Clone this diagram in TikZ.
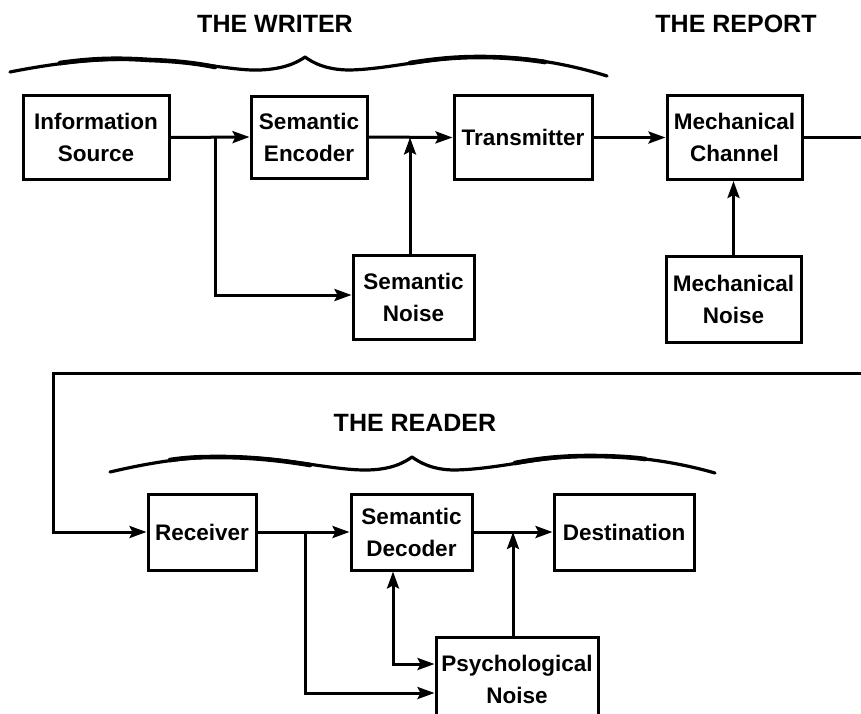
\documentclass[tikz,border=0pt]{standalone}
\usepackage{fontspec}
\newfontfamily\hv{Liberation Sans}
\usetikzlibrary{arrows.meta}
\begin{document}
\begin{tikzpicture}[x=1pt,y=-1pt,
  box/.style={draw, line width=3pt, align=center, inner sep=0pt,
    font=\hv\bfseries\fontsize{22.5}{32}\selectfont},
  title/.style={font=\hv\bfseries\fontsize{25}{29}\selectfont},
  wire/.style={line width=3pt},
  arr/.style={wire, -{Stealth[length=17pt,width=12pt,inset=3pt]}},
  darr/.style={wire, {Stealth[length=17pt,width=12pt,inset=3pt]}-{Stealth[length=17pt,width=12pt,inset=3pt]}},
  brace/.style={line width=3.2pt, line cap=round, line join=round},
  thickbrace/.style={line width=4.6pt, line cap=round}]
\useasboundingbox (0,0) rectangle (861,713);
\clip (0,0) rectangle (861,713);
\fill[white] (0,0) rectangle (861,713);

% titles
\node[title] (tw) at (275,24) {THE WRITER};
\node[title] (tr) at (736,24) {THE REPORT};
\node[title] (td) at (415,423) {THE READER};

% braces
\draw[brace] (10,72) .. controls (50,64) and (100,57) .. (150,60)
  .. controls (200,62) and (235,71) .. (260,70)
  .. controls (285,69) and (298,62) .. (305,57)
  .. controls (312,62) and (325,70) .. (350,70)
  .. controls (390,69) and (430,57) .. (480,57)
  .. controls (530,56) and (575,66) .. (607,76);
\draw[thickbrace] (60,63) .. controls (95,58) and (120,58) .. (150,60)
  .. controls (180,61) and (200,64) .. (215,67);
\draw[thickbrace] (410,63) .. controls (435,59) and (455,57) .. (480,57)
  .. controls (505,57) and (525,59) .. (545,62);
\draw[brace] (110,472) .. controls (140,465) and (180,457) .. (220,457)
  .. controls (280,456) and (330,470) .. (365,470)
  .. controls (392,470) and (405,462) .. (412,457)
  .. controls (419,462) and (432,470) .. (455,470)
  .. controls (500,469) and (540,456) .. (590,456)
  .. controls (640,456) and (680,463) .. (715,473);
\draw[thickbrace] (170,460) .. controls (190,457) and (205,457) .. (220,457)
  .. controls (250,457) and (280,460) .. (310,465);
\draw[thickbrace] (515,463) .. controls (540,458) and (565,456) .. (590,456)
  .. controls (610,456) and (630,457) .. (645,459);

% top row
\node[box, minimum width=146pt, minimum height=84pt] (src) at (96,137.5) {Information\\Source};
\node[box, minimum width=116pt, minimum height=82pt] (enc) at (309,137) {Semantic\\Encoder};
\node[box, minimum width=138pt, minimum height=84pt] (tx) at (523,137.5) {Transmitter};
\node[box, minimum width=135pt, minimum height=84pt] (mch) at (734.5,137.5) {Mechanical\\Channel};
\node[box, minimum width=121pt, minimum height=84pt] (sn) at (413.5,297.5) {Semantic\\Noise};
\node[box, minimum width=135pt, minimum height=86pt] (mn) at (733.5,299) {Mechanical\\Noise};

% bottom row
\node[box, minimum width=108pt, minimum height=76pt] (rcv) at (202,532) {Receiver};
\node[box, minimum width=121pt, minimum height=76pt] (dec) at (411.5,532) {Semantic\\Decoder};
\node[box, minimum width=140pt, minimum height=76pt] (dst) at (624,532) {Destination};
\node[box, minimum width=162pt, minimum height=84pt] (psy) at (517,679) {Psychological\\Noise};

% junctions and routing points
\coordinate (j1) at (215,137.5);
\coordinate (j2) at (410,137.5);
\coordinate (j3) at (305,532);
\coordinate (j4) at (513,532);
\coordinate (r1) at (875,137.5);
\coordinate (r2) at (875,373);
\coordinate (l1) at (53,373);

% top connectors
\draw[arr] (src.east) -- (enc.west);
\draw[arr] (j1) |- ([yshift=2.5pt]sn.west);
\draw[arr] (enc.east) -- (tx.west);
\draw[arr] (sn.north -| j2) -- (j2);
\draw[arr] (tx.east) -- (mch.west);
\draw[arr] (mn.north) -- (mn.north |- mch.south);

% loop from report to reader
\draw[arr] (mch.east) -- (r1) -- (r2) -- (l1) |- (rcv.west);

% bottom connectors
\draw[arr] (rcv.east) -- (dec.west);
\draw[arr] (dec.east) -- (dst.west);
\draw[arr] (j3) |- ([yshift=-14pt]psy.west);
\draw[darr] ([xshift=-18.5pt]dec.south) |- ([yshift=15pt]psy.west);
\draw[arr] (psy.north -| j4) -- (j4);
\end{tikzpicture}
\end{document}
